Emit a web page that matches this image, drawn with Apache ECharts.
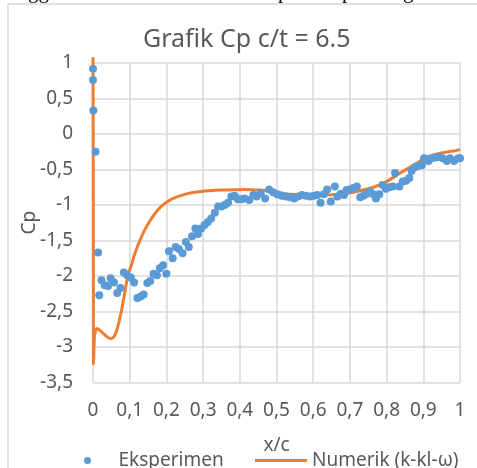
<!DOCTYPE html>
<html>
<head>
<meta charset="utf-8">
<script src="https://cdn.jsdelivr.net/npm/echarts@6/dist/echarts.min.js"></script>
<style>
  html, body { margin: 0; padding: 0; background: #ffffff; }
  #chart { width: 477px; height: 468px; }
</style>
</head>
<body>
<div id="chart"></div>
<script>
// Experimental pressure coefficient along the chord
const expX = [
  0, 0, 0.001, 0.007, 0.014, 0.017, 0.023, 0.032, 0.041, 0.048,
  0.057, 0.066, 0.075, 0.084, 0.093, 0.103, 0.112, 0.121, 0.13, 0.138,
  0.148, 0.156, 0.165, 0.174, 0.182, 0.191, 0.2, 0.207, 0.217, 0.225,
  0.234, 0.244, 0.253, 0.261, 0.27, 0.279, 0.286, 0.295, 0.304, 0.313,
  0.322, 0.332, 0.341, 0.35, 0.359, 0.368, 0.377, 0.386, 0.395, 0.404,
  0.413, 0.426, 0.437, 0.446, 0.457, 0.469, 0.48, 0.491, 0.502, 0.514,
  0.526, 0.537, 0.548, 0.559, 0.569, 0.58, 0.591, 0.602, 0.611, 0.62,
  0.629, 0.638, 0.648, 0.659, 0.666, 0.675, 0.684, 0.691, 0.7, 0.709,
  0.719, 0.728, 0.737, 0.746, 0.755, 0.764, 0.771, 0.78, 0.789, 0.798,
  0.807, 0.817, 0.823, 0.835, 0.844, 0.853, 0.862, 0.868, 0.877, 0.886,
  0.896, 0.902, 0.914, 0.923, 0.934, 0.944, 0.953, 0.964, 0.973, 0.984,
  0.995, 1.0
];
const expCp = [
  0.92, 0.76, 0.33, -0.25, -1.67, -2.27, -2.06, -2.13, -2.14, -2.03,
  -2.09, -2.24, -2.17, -1.95, -1.99, -2.02, -2.09, -2.31, -2.29, -2.26,
  -2.10, -2.07, -1.97, -1.99, -1.89, -1.85, -1.97, -1.65, -1.75, -1.59,
  -1.62, -1.68, -1.52, -1.59, -1.44, -1.33, -1.41, -1.33, -1.28, -1.24,
  -1.19, -1.11, -1.02, -1.02, -1.0, -0.97, -0.88, -0.87, -0.92, -0.92,
  -0.91, -0.93, -0.86, -0.88, -0.83, -0.91, -0.78, -0.82, -0.85, -0.87,
  -0.88, -0.89, -0.91, -0.88, -0.86, -0.87, -0.88, -0.87, -0.86, -0.97,
  -0.85, -0.78, -0.95, -0.74, -0.88, -0.84, -0.86, -0.79, -0.78, -0.76,
  -0.74, -0.89, -0.87, -0.84, -0.81, -0.85, -0.91, -0.85, -0.72, -0.77,
  -0.75, -0.74, -0.55, -0.74, -0.67, -0.66, -0.62, -0.52, -0.47, -0.45,
  -0.44, -0.34, -0.38, -0.34, -0.33, -0.32, -0.34, -0.38, -0.34, -0.38,
  -0.34, -0.34
];

// Numerical result (k-kl-omega model)
const numX = [
  0, 0.0005, 0.001, 0.0015, 0.004, 0.01, 0.02, 0.03, 0.042, 0.051,
  0.058, 0.065, 0.072, 0.078, 0.087, 0.096, 0.104, 0.11, 0.123, 0.141,
  0.163, 0.186, 0.213, 0.25, 0.295, 0.35, 0.413, 0.455, 0.491, 0.537,
  0.582, 0.628, 0.673, 0.718, 0.764, 0.8, 0.837, 0.873, 0.909, 0.945,
  0.982, 1.0
];
const numCp = [
  1.08, 0, -2.0, -3.24, -2.85, -2.74, -2.77, -2.82, -2.87, -2.88,
  -2.85, -2.76, -2.62, -2.48, -2.22, -1.97, -1.86, -1.75, -1.56, -1.35,
  -1.16, -1.02, -0.92, -0.85, -0.81, -0.79, -0.78, -0.79, -0.81, -0.85,
  -0.86, -0.86, -0.85, -0.81, -0.75, -0.67, -0.55, -0.44, -0.33, -0.27,
  -0.24, -0.22
];

const xTicks = { min: 0, max: 1, step: 0.1 };
const yTicks = { min: -3.5, max: 1, step: 0.5 };

const seriesNames = ['Eksperimen', 'Numerik (k-kl-\u03c9)'];
const titleText = 'Grafik Cp c/t = 6.5';

const FONT = '"Noto Sans", sans-serif';
const GREY = '#595959';
const GRID = '#D9D9D9';

const comma = v => String(Math.round(v * 10) / 10).replace('.', ',');

const legendBase = {
  top: 451,
  padding: 0,
  itemWidth: 52,
  itemHeight: 7,
  textStyle: { fontFamily: FONT, fontSize: 19, color: GREY }
};

const chart = echarts.init(document.getElementById('chart'), null, { renderer: 'canvas' });
chart.setOption({
  backgroundColor: '#ffffff',
  animation: false,
  textStyle: { fontFamily: FONT },
  title: {
    text: titleText,
    left: 138,
    top: 22,
    textStyle: { fontFamily: FONT, fontSize: 25, fontWeight: 'normal', color: GREY }
  },
  graphic: [
    {
      type: 'rect',
      shape: { x: 8, y: 4, width: 490, height: 480 },
      style: { fill: 'none', stroke: GRID, lineWidth: 1.5 },
      silent: true
    },
    { type: 'text', x: 28, y: -7.5, style: { text: 'gg', font: '21px "Liberation Serif"', fill: '#000', verticalAlign: 'middle' } },
    { type: 'text', x: 278, y: -7.5, style: { text: 'p', font: '21px "Liberation Serif"', fill: '#000', verticalAlign: 'middle' } },
    { type: 'text', x: 342, y: -7.5, style: { text: 'p', font: '21px "Liberation Serif"', fill: '#000', verticalAlign: 'middle' } },
    { type: 'text', x: 403, y: -7.5, style: { text: 'g', font: '21px "Liberation Serif"', fill: '#000', verticalAlign: 'middle' } }
  ],
  grid: { left: 93, right: 17, top: 63, bottom: 85.5, containLabel: false },
  legend: [
    Object.assign({}, legendBase, {
      left: 84,
      data: [{ name: seriesNames[0], icon: 'circle' }]
    }),
    Object.assign({}, legendBase, {
      left: 255,
      data: [{ name: seriesNames[1], icon: 'path://M0,0L52,0L52,3L0,3Z' }]
    })
  ],
  xAxis: {
    type: 'value',
    min: xTicks.min,
    max: xTicks.max,
    interval: xTicks.step,
    name: 'x/c',
    nameLocation: 'middle',
    nameGap: 54,
    nameTextStyle: { fontFamily: FONT, fontSize: 19, color: GREY },
    axisLine: { show: false },
    axisTick: { show: false },
    axisLabel: { margin: 19, fontFamily: FONT, fontSize: 19, color: GREY, formatter: comma },
    splitLine: { show: true, lineStyle: { color: GRID, width: 1.5 } }
  },
  yAxis: {
    type: 'value',
    min: yTicks.min,
    max: yTicks.max,
    interval: yTicks.step,
    name: 'Cp',
    nameLocation: 'middle',
    nameGap: 54,
    nameMoveOverlap: false,
    nameTextStyle: { fontFamily: FONT, fontSize: 19, color: GREY },
    axisLine: { show: false },
    axisTick: { show: false },
    axisLabel: { margin: 20, fontFamily: FONT, fontSize: 19, color: GREY, formatter: comma },
    splitLine: { show: true, lineStyle: { color: GRID, width: 1.5 } }
  },
  series: [
    {
      name: seriesNames[1],
      type: 'line',
      data: numX.map((x, i) => [x, numCp[i]]),
      symbol: 'none',
      showSymbol: false,
      smooth: 0.2,
      clip: false,
      z: 2,
      lineStyle: { color: '#ED7D31', width: 3 },
      itemStyle: { color: '#ED7D31' }
    },
    {
      name: seriesNames[0],
      type: 'scatter',
      data: expX.map((x, i) => [x, expCp[i]]),
      symbol: 'circle',
      symbolSize: 8,
      z: 3,
      itemStyle: { color: '#5B9BD5', opacity: 1 }
    }
  ]
});
</script>
</body>
</html>
